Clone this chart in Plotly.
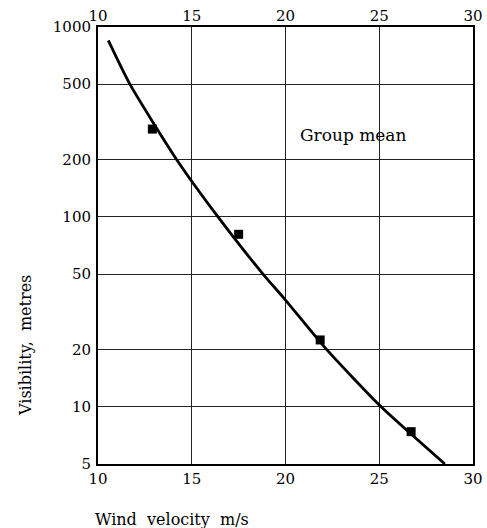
import plotly.graph_objects as go

# Group mean observations
obs_wind = [12.9, 17.5, 21.85, 26.7]
obs_vis = [290, 81, 22.5, 7.4]

# Fitted curve
curve_wind = [10.55, 11.7, 14.2, 16.4, 18.8, 20.0, 22.2, 25.1, 28.5]
curve_vis = [850, 500, 200, 100, 50, 36.5, 20, 10, 5]

x_ticks = [10, 15, 20, 25, 30]
y_ticks = [5, 10, 20, 50, 100, 200, 500, 1000]

font_family = "DejaVu Serif, Liberation Serif, serif"

W, H = 487, 528
L, R, T, B = 98, 14, 27, 64
plot_w = W - L - R
plot_h = H - T - B


def px_to_paper(px, py):
    return (px - L) / plot_w, (H - B - py) / plot_h


fig = go.Figure()
fig.add_trace(go.Scatter(x=curve_wind, y=curve_vis, mode="lines",
                         line=dict(color="black", width=2.8, shape="spline", smoothing=0.6),
                         showlegend=False, hoverinfo="skip"))
fig.add_trace(go.Scatter(x=obs_wind, y=obs_vis, mode="markers",
                         marker=dict(symbol="square", size=9, color="black"),
                         showlegend=False))
# invisible trace so the top axis is drawn
fig.add_trace(go.Scatter(x=[10, 30], y=[5, 5], xaxis="x2", mode="markers",
                         marker=dict(opacity=0), showlegend=False, hoverinfo="skip"))

tickfont = dict(family=font_family, size=15, color="black")
axis_common = dict(showline=True, linecolor="black", linewidth=2, showgrid=True,
                   gridcolor="#222", gridwidth=1.4, ticks="", zeroline=False,
                   automargin=False, tickfont=tickfont)

xt_x, xt_y = px_to_paper(93, 519)
yt_x, yt_y = px_to_paper(25, 346)

fig.update_layout(
    width=W, height=H,
    margin=dict(l=L, r=R, t=T, b=B, autoexpand=False),
    paper_bgcolor="white", plot_bgcolor="white",
    xaxis=dict(range=[10, 30], tickvals=x_ticks, ticktext=[str(v) for v in x_ticks],
               mirror=True, **axis_common),
    xaxis2=dict(range=[10, 30], tickvals=x_ticks, ticktext=[str(v) for v in x_ticks],
                overlaying="x", side="top", showline=False, showgrid=False, ticks="",
                zeroline=False, automargin=False, tickfont=tickfont,
                ticklabelstandoff=2),
    yaxis=dict(type="log", range=[0.69897, 3.0], tickvals=y_ticks,
               ticktext=[str(v) for v in y_ticks], mirror=True,
               ticklabelstandoff=2, **axis_common),
    annotations=[
        dict(text="Group mean", x=20.65, y=2.43, xref="x", yref="y", showarrow=False,
             xanchor="left", yanchor="middle",
             font=dict(family=font_family, size=17, color="black")),
        dict(text="Wind  velocity  m/s", x=xt_x, y=xt_y, xref="paper", yref="paper",
             showarrow=False, xanchor="left", yanchor="middle",
             font=dict(family=font_family, size=16, color="black")),
        dict(text="Visibility,  metres", x=yt_x, y=yt_y, xref="paper", yref="paper",
             showarrow=False, textangle=-90, xanchor="center", yanchor="middle",
             font=dict(family=font_family, size=16, color="black")),
    ],
)

fig.write_html("out.html",
               config={"displayModeBar": False},
               post_script="document.body.style.margin='0';document.body.style.overflow='hidden';")
